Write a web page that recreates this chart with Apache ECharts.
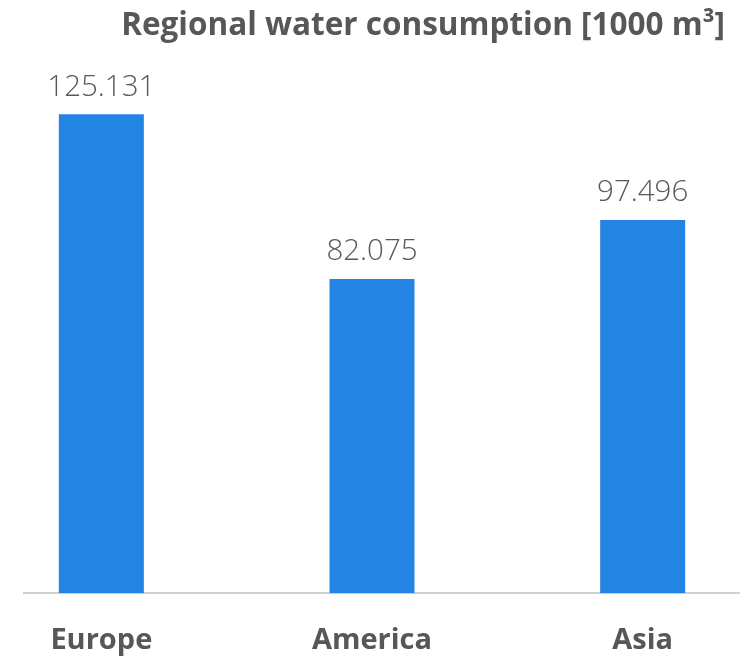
<!DOCTYPE html>
<html>
<head>
<meta charset="utf-8">
<script src="https://cdn.jsdelivr.net/npm/echarts@6/dist/echarts.min.js"></script>
<style>html,body{margin:0;padding:0;background:#fff}#c{width:751px;height:660px}</style>
</head>
<body>
<div id="c"></div>
<script>
const categories = ['Europe', 'America', 'Asia'];
const values = [125.131, 82.075, 97.496];
const labels = ['125.131', '82.075', '97.496'];

const chart = echarts.init(document.getElementById('c'));
chart.setOption({
  animation: false,
  title: {
    text: 'Regional water consumption [1000 m³]',
    right: 21,
    top: 5,
    textStyle: { fontFamily: 'Open Sans', fontWeight: 'bold', fontSize: 31.5, color: '#575757' }
  },
  grid: { left: -34, right: -27, top: 57.4, bottom: 67, outerBoundsMode: 'none', containLabel: false },
  xAxis: {
    type: 'category',
    data: categories,
    axisLine: { show: false },
    axisTick: { show: false },
    axisLabel: { margin: 33, fontFamily: 'Open Sans', fontWeight: 'bold', fontSize: 29, color: '#575757' }
  },
  yAxis: {
    type: 'value', min: 0, max: 140,
    show: false,
    splitLine: { show: false }
  },
  graphic: [{
    type: 'rect', shape: { x: 23, y: 592, width: 717, height: 2 },
    style: { fill: '#d0d0d0' }, z: 1
  }],
  series: [{
    type: 'bar',
    data: values,
    barWidth: 85,
    itemStyle: { color: '#2484e4' },
    label: {
      show: true, position: 'top', distance: 12,
      formatter: p => labels[p.dataIndex],
      fontFamily: 'Open Sans', fontWeight: 300, fontSize: 29.5, color: '#595959'
    }
  }]
});
</script>
</body>
</html>
